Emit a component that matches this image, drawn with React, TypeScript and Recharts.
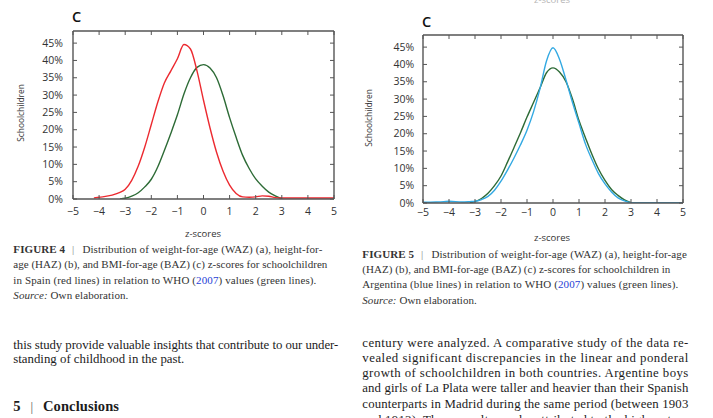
import { LineChart, Line, XAxis, YAxis } from 'recharts'

// z-score grid shared by both panels
const zScores = [
  -5, -4.5, -4.2, -4, -3.5, -3.2, -3, -2.75, -2.5, -2.25, -2, -1.75, -1.5, -1.25, -1, -0.75, -0.5, -0.25,
  0, 0.25, 0.5, 0.75, 1, 1.25, 1.5, 1.75, 2, 2.25, 2.5, 2.75, 3, 3.5, 4, 4.5, 5,
]

// % of schoolchildren, BAZ, Spain (red)
const spainBaz = [
  null, null, 0.3, 0.5, 1.1, 1.9, 2.8, 5.4, 9.5, 15, 21.5, 28, 33.5, 37, 40.5, 44.6, 43.3, 37,
  28.5, 20.5, 13.5, 8, 4, 1.6, 0.6, 0.5, 0.6, 0.9, 0.8, 0.4, 0.3, 0.3, 0.3, 0.3, 0.3,
]

// WHO 2007 reference as drawn in the Spain panel (green)
const whoSpainPanel = [
  null, null, null, null, null, 0, 0.2, 0.8, 1.8, 3.5, 5.7, 9.3, 14, 19, 24.3, 30.3, 35, 38,
  38.8, 37.8, 35, 29.8, 23.5, 17.8, 12.6, 8.8, 5.8, 3.7, 2, 0.9, 0.1, null, null, null, null,
]

// % of schoolchildren, BAZ, Argentina (blue)
const argentinaBaz = [
  0.2, 0.3, 0.4, 0.5, 0.3, 0.4, 0.5, 1, 1.9, 3.7, 6.3, 9.5, 13, 16.8, 21, 26.3, 33, 41,
  44.8, 41.5, 35.5, 29, 23, 17, 12.5, 8.5, 5.5, 3.2, 1.5, 0.6, 0.1, 0.1, 0.1, 0.1, 0.1,
]

// WHO 2007 reference as drawn in the Argentina panel (green)
const whoArgentinaPanel = [
  null, null, null, null, null, 0.1, 0.4, 1.3, 2.8, 5, 7.8, 11.8, 16, 20.3, 24.8, 29, 33.2, 37.6,
  39, 37.8, 35, 30, 23.8, 18.8, 14, 9.8, 6.5, 3.9, 2.2, 0.9, 0.1, null, null, null, null,
]

const xTicks = [-5, -4, -3, -2, -1, 0, 1, 2, 3, 4, 5]
const yTicks = [0, 5, 10, 15, 20, 25, 30, 35, 40, 45]
const Y_MAX = 48.5

const FRAME = '#555555'
const TICK_TEXT = '#333333'
const GREEN = '#2d6b36'
const RED = '#ec2a30'
const BLUE = '#33a9e2'
const SANS = '"Open Sans", "Noto Sans", sans-serif'
const SERIF = '"Liberation Serif", "Times New Roman", serif'

const spainRows = zScores.map((z, i) => ({ z, sample: spainBaz[i], who: whoSpainPanel[i] }))
const argentinaRows = zScores.map((z, i) => ({ z, sample: argentinaBaz[i], who: whoArgentinaPanel[i] }))

const fmtZ = (v: number) => (v < 0 ? `\u2212${Math.abs(v)}` : `${v}`)

function BottomTick({ x, y, payload, gap }: any) {
  return (
    <g>
      <line x1={x} x2={x} y1={y} y2={y - 4} stroke={FRAME} strokeWidth={1} />
      <text x={x} y={y + gap} textAnchor="middle" fontSize={10.5} fontFamily={SANS} fill={TICK_TEXT}>
        {fmtZ(payload.value)}
      </text>
    </g>
  )
}

function LeftTick({ x, y, payload, gap }: any) {
  return (
    <g>
      <line x1={x} x2={x + 4} y1={y} y2={y} stroke={FRAME} strokeWidth={1} />
      <text x={x - gap} y={y + 3.7} textAnchor="end" fontSize={10.5} fontFamily={SANS} fill={TICK_TEXT}>
        {`${payload.value}%`}
      </text>
    </g>
  )
}

function TopTick({ x, y }: any) {
  return <line x1={x} x2={x} y1={y} y2={y + 4} stroke={FRAME} strokeWidth={1} />
}

function RightTick({ x, y }: any) {
  return <line x1={x} x2={x - 4} y1={y} y2={y} stroke={FRAME} strokeWidth={1} />
}

type PanelProps = {
  rows: Array<Record<string, number | null>>
  color: string
  left: number
  width: number
  height: number
  marginTop: number
  xGap: number
  yGap: number
}

function ZPanel({ rows, color, left, width, height, marginTop, xGap, yGap }: PanelProps) {
  const axisLine = { stroke: FRAME, strokeWidth: 1.4 }
  return (
    <div style={{ position: 'absolute', left, top: 0 }}>
      <LineChart width={width} height={height} data={rows} margin={{ top: marginTop, right: 0, bottom: 0, left: 13 }}>
        <XAxis
          dataKey="z"
          type="number"
          domain={[-5, 5]}
          ticks={xTicks}
          interval={0}
          allowDataOverflow
          height={30}
          axisLine={axisLine}
          tickLine={false}
          tickSize={0}
          tickMargin={0}
          tick={<BottomTick gap={xGap} />}
        />
        <XAxis
          xAxisId="top"
          orientation="top"
          dataKey="z"
          type="number"
          domain={[-5, 5]}
          ticks={xTicks}
          interval={0}
          allowDataOverflow
          height={10}
          axisLine={axisLine}
          tickLine={false}
          tickSize={0}
          tickMargin={0}
          tick={<TopTick />}
        />
        <YAxis
          type="number"
          domain={[0, Y_MAX]}
          ticks={yTicks}
          interval={0}
          allowDataOverflow
          width={60}
          axisLine={axisLine}
          tickLine={false}
          tickSize={0}
          tickMargin={0}
          tick={<LeftTick gap={yGap} />}
        />
        <YAxis
          yAxisId="right"
          orientation="right"
          type="number"
          domain={[0, Y_MAX]}
          ticks={yTicks}
          interval={0}
          allowDataOverflow
          width={11}
          axisLine={axisLine}
          tickLine={false}
          tickSize={0}
          tickMargin={0}
          tick={<RightTick />}
        />
        <Line
          dataKey="who"
          type="monotone"
          stroke={GREEN}
          strokeWidth={1.4}
          dot={false}
          activeDot={false}
          isAnimationActive={false}
        />
        <Line
          dataKey="sample"
          type="monotone"
          stroke={color}
          strokeWidth={1.4}
          dot={false}
          activeDot={false}
          isAnimationActive={false}
        />
      </LineChart>
    </div>
  )
}

function T({ x, y, w, size, children, fill = '#333', weight, family = SERIF }: any) {
  return (
    <text
      x={x}
      y={y}
      fontSize={size}
      fontFamily={family}
      fontWeight={weight}
      fill={fill}
      textLength={w}
      lengthAdjust={w ? 'spacing' : undefined}
    >
      {children}
    </text>
  )
}

export default function App() {
  const cap = 11
  const body = 12.8
  return (
    <div
      style={{
        position: 'absolute',
        left: 0,
        top: 0,
        width: 713,
        height: 418,
        overflow: 'hidden',
        background: '#fff',
      }}
    >
      <ZPanel rows={spainRows} color={RED} left={0} width={345} height={229} marginTop={21} xGap={15.5} yGap={10} />
      <ZPanel
        rows={argentinaRows}
        color={BLUE}
        left={350}
        width={344}
        height={233}
        marginTop={25}
        xGap={13.3}
        yGap={8.7}
      />
      <svg
        width={713}
        height={418}
        style={{ position: 'absolute', left: 0, top: 0, pointerEvents: 'none' }}
      >
        {/* panel letters and axis titles */}
        <text x={72} y={21.7} fontSize={14.5} fontWeight={600} fontFamily={SANS} fill="#111">C</text>
        <text x={422} y={26.7} fontSize={14.5} fontWeight={600} fontFamily={SANS} fill="#111">C</text>
        <text x={552} y={2.5} fontSize={9.5} fontFamily={SANS} fill="#b5b5b5" textAnchor="middle">z-scores</text>

        <text
          x={20}
          y={113}
          fontSize={8.4}
          fontFamily={SANS}
          fill={TICK_TEXT}
          textAnchor="middle"
          dominantBaseline="central"
          transform="rotate(-90 20 113)"
        >
          Schoolchildren
        </text>
        <text
          x={368}
          y={118}
          fontSize={8.4}
          fontFamily={SANS}
          fill={TICK_TEXT}
          textAnchor="middle"
          dominantBaseline="central"
          transform="rotate(-90 368 118)"
        >
          Schoolchildren
        </text>
        <text x={203} y={236.5} fontSize={9.5} fontFamily={SANS} fill={TICK_TEXT} textAnchor="middle">z-scores</text>
        <text x={552} y={240.5} fontSize={9.5} fontFamily={SANS} fill={TICK_TEXT} textAnchor="middle">z-scores</text>

        {/* figure 4 caption */}
        <T x={13.3} y={253.2} w={309} size={cap}>
          <tspan fontWeight={700}>FIGURE 4</tspan>
          <tspan dx={7} fill="#888">|</tspan>
          <tspan dx={8}>Distribution of weight-for-age (WAZ) (a), height-for-</tspan>
        </T>
        <T x={13.3} y={268.3} w={314} size={cap}>age (HAZ) (b), and BMI-for-age (BAZ) (c) z-scores for schoolchildren</T>
        <T x={13.3} y={283.8} w={303} size={cap}>
          in Spain (red lines) in relation to WHO (<tspan fill="#1f3fd6">2007</tspan>) values (green lines).
        </T>
        <T x={13.3} y={298.8} w={115} size={cap}>
          <tspan fontStyle="italic">Source:</tspan> Own elaboration.
        </T>

        {/* figure 5 caption */}
        <T x={362.3} y={258.2} w={324.5} size={cap}>
          <tspan fontWeight={700}>FIGURE 5</tspan>
          <tspan dx={7} fill="#888">|</tspan>
          <tspan dx={8}>Distribution of weight-for-age (WAZ) (a), height-for-age</tspan>
        </T>
        <T x={362.3} y={273.3} w={308} size={cap}>(HAZ) (b), and BMI-for-age (BAZ) (c) z-scores for schoolchildren in</T>
        <T x={362.3} y={288.3} w={316} size={cap}>
          Argentina (blue lines) in relation to WHO (<tspan fill="#1f3fd6">2007</tspan>) values (green lines).
        </T>
        <T x={362.3} y={303.8} w={114.5} size={cap}>
          <tspan fontStyle="italic">Source:</tspan> Own elaboration.
        </T>

        {/* body text, left column */}
        <T x={13.3} y={348.6} w={325} size={body} fill="#1c1c1c">
          this study provide valuable insights that contribute to our under-
        </T>
        <T x={13.3} y={363} w={171} size={body} fill="#1c1c1c">standing of childhood in the past.</T>
        <text x={13.3} y={410.5} fontSize={14.5} fontWeight={700} fontFamily={SERIF} fill="#1c1c1c">5</text>
        <text x={30.5} y={410.5} fontSize={13} fontFamily={SERIF} fill="#555">|</text>
        <T x={43} y={410.5} w={76} size={14.5} weight={700} fill="#1c1c1c">Conclusions</T>

        {/* body text, right column */}
        <T x={362.3} y={346.5} w={326} size={body} fill="#1c1c1c">
          century were analyzed. A comparative study of the data re-
        </T>
        <T x={362.3} y={361.5} w={326} size={body} fill="#1c1c1c">
          vealed significant discrepancies in the linear and ponderal
        </T>
        <T x={362.3} y={377.2} w={326} size={body} fill="#1c1c1c">
          growth of schoolchildren in both countries. Argentine boys
        </T>
        <T x={362.3} y={392.2} w={326} size={body} fill="#1c1c1c">
          and girls of La Plata were taller and heavier than their Spanish
        </T>
        <T x={362.3} y={408} w={326} size={body} fill="#1c1c1c">
          counterparts in Madrid during the same period (between 1903
        </T>
        <T x={362.3} y={423.5} w={326} size={body} fill="#1c1c1c">
          and 1913). These results can be attributed to the higher stan-
        </T>
      </svg>
    </div>
  )
}
